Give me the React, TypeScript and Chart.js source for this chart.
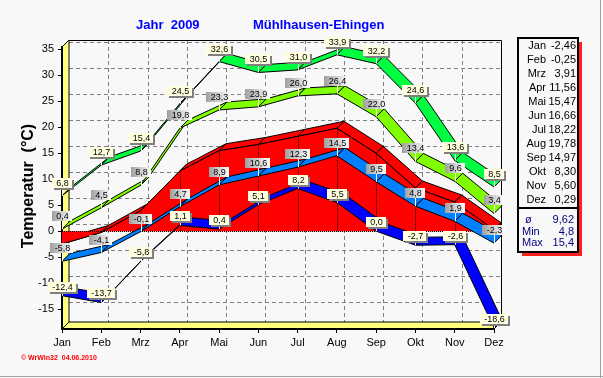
import React, { useEffect, useRef } from 'react';
import { Chart, registerables } from 'chart.js';

Chart.register(...registerables);

// ---------- data ----------
const MONTHS = ['Jan', 'Feb', 'Mrz', 'Apr', 'Mai', 'Jun', 'Jul', 'Aug', 'Sep', 'Okt', 'Nov', 'Dez'];
const MEAN = [-2.46, -0.25, 3.91, 11.56, 15.47, 16.66, 18.22, 19.78, 14.97, 8.3, 5.6, 0.29];
const ABS_MAX = [6.8, 12.7, 15.4, 24.5, 32.6, 30.5, 31.0, 33.9, 32.2, 24.6, 13.6, 8.5];
const MEAN_MAX = [0.4, 4.5, 8.8, 19.8, 23.3, 23.9, 26.0, 26.4, 22.0, 13.4, 9.6, 3.4];
const MEAN_MIN = [-5.8, -4.1, -0.1, 4.7, 8.9, 10.6, 12.3, 14.5, 9.5, 4.8, 1.9, -2.3];
const ABS_MIN = [-12.4, -13.7, -5.8, 1.1, 0.4, 5.1, 8.2, 5.5, 0.0, -2.7, -2.6, -18.6];
const Y_TICKS = [-15, -10, -5, 0, 5, 10, 15, 20, 25, 30, 35];
const STAT_LABELS = ['ø', 'Min', 'Max'];
const STAT_VALUES = [9.62, 4.8, 15.4];
const STAT_DECIMALS = [2, 1, 1];
const TITLE_YEAR = 'Jahr  2009';
const TITLE_STATION = 'Mühlhausen-Ehingen';
const Y_TITLE = 'Temperatur  (°C)';
const FOOTER = '© WrWin32  04.06.2010';

// ---------- styles ----------
const FONT = '"Liberation Sans", Arial, sans-serif';
const BG = '#f8f8f8';
const DX = 7;
const DY = 7;
const RX = 8;
const RY = 8;

// dataset order: 0 mean area, 1 mean min, 2 abs min, 3 mean max, 4 abs max
const SERIES_DATA = [MEAN, MEAN_MIN, ABS_MIN, MEAN_MAX, ABS_MAX];
const SERIES_NAMES = ['Mittel', 'Mittl. Min', 'Abs. Min', 'Mittl. Max', 'Abs. Max'];
const SERIES_COLORS = ['#ff0000', '#0080ff', '#0000ff', '#80ff00', '#00ff40'];
const SERIES_LABEL_KIND = ['none', 'gray', 'cream', 'gray', 'cream'];
const SERIES_LABEL_OFFSET = [0, 13, 9, 13, 13];

const fmt = (v: number, d: number) => v.toFixed(d).replace('.', ',');

function poly(ctx: CanvasRenderingContext2D, pts: number[][]) {
  ctx.beginPath();
  ctx.moveTo(pts[0][0], pts[0][1]);
  for (let i = 1; i < pts.length; i++) ctx.lineTo(pts[i][0], pts[i][1]);
  ctx.closePath();
}

function line(ctx: CanvasRenderingContext2D, x1: number, y1: number, x2: number, y2: number) {
  ctx.beginPath();
  ctx.moveTo(x1, y1);
  ctx.lineTo(x2, y2);
  ctx.stroke();
}

const scenePlugin = {
  id: 'scene',
  beforeDraw(chart: any) {
    const ctx: CanvasRenderingContext2D = chart.ctx;
    const { left, right, top, bottom } = chart.chartArea;
    const xs = chart.scales.x;
    const ys = chart.scales.y;
    ctx.save();
    ctx.fillStyle = BG;
    ctx.fillRect(0, 0, chart.width, chart.height);

    // outer frame
    ctx.fillStyle = '#a0a0a0';
    ctx.fillRect(600, 0, 1, 378);
    ctx.fillRect(0, 376, 603, 1);

    // back wall dashed grid
    ctx.strokeStyle = '#808080';
    ctx.lineWidth = 1;
    ctx.setLineDash([4, 3]);
    for (const v of Y_TICKS) {
      const y = Math.round(ys.getPixelForValue(v) - DY) + 0.5;
      line(ctx, left + DX, y, right + DX, y);
    }
    for (let i = 1; i < MONTHS.length - 1; i++) {
      const x = Math.round(xs.getPixelForValue(i) + DX) + 0.5;
      line(ctx, x, top - DY, x, bottom - DY);
    }
    ctx.setLineDash([]);

    // back wall border
    ctx.strokeStyle = '#000';
    ctx.lineWidth = 1;
    ctx.beginPath();
    ctx.moveTo(left + DX, top - DY + 0.5);
    ctx.lineTo(right + DX + 0.5, top - DY + 0.5);
    ctx.lineTo(right + DX + 0.5, bottom - DY);
    ctx.stroke();

    // left wall & floor
    ctx.fillStyle = '#ffff80';
    poly(ctx, [[left, top], [left + DX, top - DY], [left + DX, bottom - DY], [left, bottom]]);
    ctx.fill();
    ctx.stroke();
    poly(ctx, [[left, bottom], [left + DX, bottom - DY], [right + DX, bottom - DY], [right, bottom]]);
    ctx.fill();
    ctx.stroke();

    // titles
    ctx.fillStyle = '#0000ff';
    ctx.font = `bold 13px ${FONT}`;
    ctx.textBaseline = 'middle';
    ctx.textAlign = 'left';
    ctx.fillText(TITLE_YEAR, 136, 25);
    ctx.fillText(TITLE_STATION, 253, 25);

    // y title
    ctx.save();
    ctx.translate(29, 186);
    ctx.rotate(-Math.PI / 2);
    ctx.fillStyle = '#000';
    ctx.font = `bold 16px ${FONT}`;
    ctx.textAlign = 'center';
    ctx.fillText(Y_TITLE, 0, 0);
    ctx.restore();

    // legend box
    const bx = 518, by = 38, bw = 60, bh = 214;
    ctx.fillStyle = '#ff2020';
    ctx.fillRect(bx + 4, by + 4, bw, bh);
    ctx.fillStyle = BG;
    ctx.fillRect(bx, by, bw, bh);
    ctx.strokeStyle = '#000';
    ctx.lineWidth = 2;
    ctx.strokeRect(bx, by, bw, bh);
    line(ctx, bx, 208, bx + bw, 208);
    ctx.font = `11px ${FONT}`;
    ctx.fillStyle = '#000';
    ctx.textAlign = 'right';
    MONTHS.forEach((m, i) => {
      const y = 46 + 14 * i;
      ctx.fillText(m, 546, y);
      ctx.fillText(fmt(MEAN[i], 2), 576, y);
    });
    ctx.fillStyle = '#000080';
    const statX = [525, 522, 522];
    STAT_LABELS.forEach((l, j) => {
      const y = 220 + 11.7 * j;
      ctx.textAlign = 'left';
      ctx.fillText(l, statX[j], y);
      ctx.textAlign = 'right';
      ctx.fillText(fmt(STAT_VALUES[j], STAT_DECIMALS[j]), 574, y);
    });

    // footer
    ctx.fillStyle = '#ff0000';
    ctx.font = `bold 7px ${FONT}`;
    ctx.textAlign = 'left';
    ctx.fillText(FOOTER, 21, 358.5);
    ctx.restore();
  },
  beforeDatasetsDraw(chart: any) {
    const ctx: CanvasRenderingContext2D = chart.ctx;
    const ys = chart.scales.y;
    const y0 = ys.getPixelForValue(0);
    ctx.save();
    ctx.lineJoin = 'round';
    // red mean area
    {
      const pts = chart.getDatasetMeta(0).data.map((p: any) => ({ x: p.x, y: p.y }));
      ctx.fillStyle = SERIES_COLORS[0];
      ctx.strokeStyle = '#000';
      ctx.lineWidth = 1;
      for (let i = 0; i < pts.length - 1; i++) {
        const a = pts[i], b = pts[i + 1];
        poly(ctx, [[a.x, a.y], [b.x, b.y], [b.x + DX, b.y - DY], [a.x + DX, a.y - DY]]);
        ctx.fill();
        ctx.stroke();
      }
      const last = pts[pts.length - 1];
      poly(ctx, [[last.x, y0], [last.x, last.y], [last.x + DX, last.y - DY], [last.x + DX, y0 - DY]]);
      ctx.fill();
      ctx.stroke();
      ctx.beginPath();
      ctx.moveTo(pts[0].x, y0);
      pts.forEach((p: any) => ctx.lineTo(p.x, p.y));
      ctx.lineTo(last.x, y0);
      ctx.closePath();
      ctx.fill();
      ctx.beginPath();
      pts.forEach((p: any, i: number) => (i ? ctx.lineTo(p.x, p.y) : ctx.moveTo(p.x, p.y)));
      ctx.stroke();
      ctx.setLineDash([1, 1]);
      for (let i = 1; i < pts.length - 1; i++) {
        const x = Math.round(pts[i].x) + 0.5;
        line(ctx, x, y0, x, pts[i].y);
      }
      const yz = Math.round(y0) + 0.5;
      line(ctx, pts[0].x, yz, last.x, yz);
      ctx.setLineDash([]);
    }
    // ribbons
    for (let d = 1; d < SERIES_DATA.length; d++) {
      const pts = chart.getDatasetMeta(d).data.map((p: any) => ({ x: p.x, y: p.y }));
      ctx.fillStyle = SERIES_COLORS[d];
      ctx.strokeStyle = '#000';
      ctx.lineWidth = 1;
      for (let i = 0; i < pts.length - 1; i++) {
        const a = pts[i], b = pts[i + 1];
        poly(ctx, [[a.x, a.y], [b.x, b.y], [b.x + RX, b.y - RY], [a.x + RX, a.y - RY]]);
        ctx.fill();
        ctx.stroke();
      }
    }
    ctx.restore();
  },
  afterDatasetsDraw(chart: any) {
    const ctx: CanvasRenderingContext2D = chart.ctx;
    ctx.save();
    ctx.font = `9px ${FONT}`;
    ctx.textBaseline = 'middle';
    ctx.textAlign = 'center';
    for (let d = 1; d < SERIES_DATA.length; d++) {
      const kind = SERIES_LABEL_KIND[d];
      const meta = chart.getDatasetMeta(d);
      meta.data.forEach((p: any, i: number) => {
        const txt = fmt(SERIES_DATA[d][i], 1);
        const w = Math.round(ctx.measureText(txt).width) + 7;
        const h = 10;
        const cx = Math.round(p.x);
        const cy = Math.round(p.y - SERIES_LABEL_OFFSET[d]);
        const x0 = cx - Math.round(w / 2);
        const y0 = cy - h / 2;
        // pointer
        ctx.strokeStyle = '#ffffff';
        ctx.lineWidth = 1;
        line(ctx, cx + 0.5, y0 + h, cx + 0.5, p.y);
        if (kind === 'cream') {
          ctx.fillStyle = '#808080';
          ctx.fillRect(x0 + 2, y0 + 2, w, h);
          ctx.fillStyle = '#ffffe0';
          ctx.fillRect(x0, y0, w, h);
        } else {
          const g = ctx.createLinearGradient(x0, 0, x0 + w, 0);
          g.addColorStop(0, '#a0a0a0');
          g.addColorStop(1, '#ffffff');
          ctx.fillStyle = g;
          ctx.fillRect(x0, y0, w, h);
        }
        ctx.fillStyle = '#000';
        ctx.fillText(txt, cx + 0.5, cy + 0.5);
      });
    }
    ctx.restore();
  },
};

export default function App() {
  const ref = useRef<HTMLCanvasElement>(null);
  useEffect(() => {
    const canvas = ref.current!;
    const chart = new Chart(canvas, {
      type: 'line',
      data: {
        labels: MONTHS,
        datasets: SERIES_DATA.map((data, i) => ({
          label: SERIES_NAMES[i],
          data,
          showLine: false,
          pointRadius: 0,
          borderWidth: 0,
          borderColor: SERIES_COLORS[i],
          backgroundColor: SERIES_COLORS[i],
        })),
      },
      options: {
        responsive: false,
        animation: false,
        events: [],
        layout: { padding: { left: 0, top: 47, right: 109, bottom: 0 } },
        plugins: {
          legend: { display: false },
          title: { display: false },
          tooltip: { enabled: false },
        },
        scales: {
          x: {
            type: 'category',
            offset: false,
            grid: { display: true, drawOnChartArea: false, drawTicks: true, tickLength: 4, color: '#000' },
            border: { display: true, color: '#000', width: 2 },
            ticks: { color: '#000', font: { family: FONT, size: 11 }, padding: 3, maxRotation: 0, autoSkip: false },
            afterFit: (s: any) => { s.height = 49; },
          },
          y: {
            type: 'linear',
            min: -18.8,
            max: 35.4,
            afterBuildTicks: (s: any) => { s.ticks = Y_TICKS.map((v) => ({ value: v })); },
            grid: { display: true, drawOnChartArea: false, drawTicks: true, tickLength: 4, color: '#000' },
            border: { display: true, color: '#000', width: 2 },
            ticks: { color: '#000', font: { family: FONT, size: 11 }, padding: 4 },
            afterFit: (s: any) => { s.width = 62; },
          },
        },
      },
      plugins: [scenePlugin],
    } as any);
    return () => chart.destroy();
  }, []);
  return (
    <div style={{ position: 'fixed', left: 0, top: 0, width: 603, height: 378 }}>
      <canvas ref={ref} width={603} height={378} style={{ display: 'block', width: 603, height: 378 }} />
    </div>
  );
}
